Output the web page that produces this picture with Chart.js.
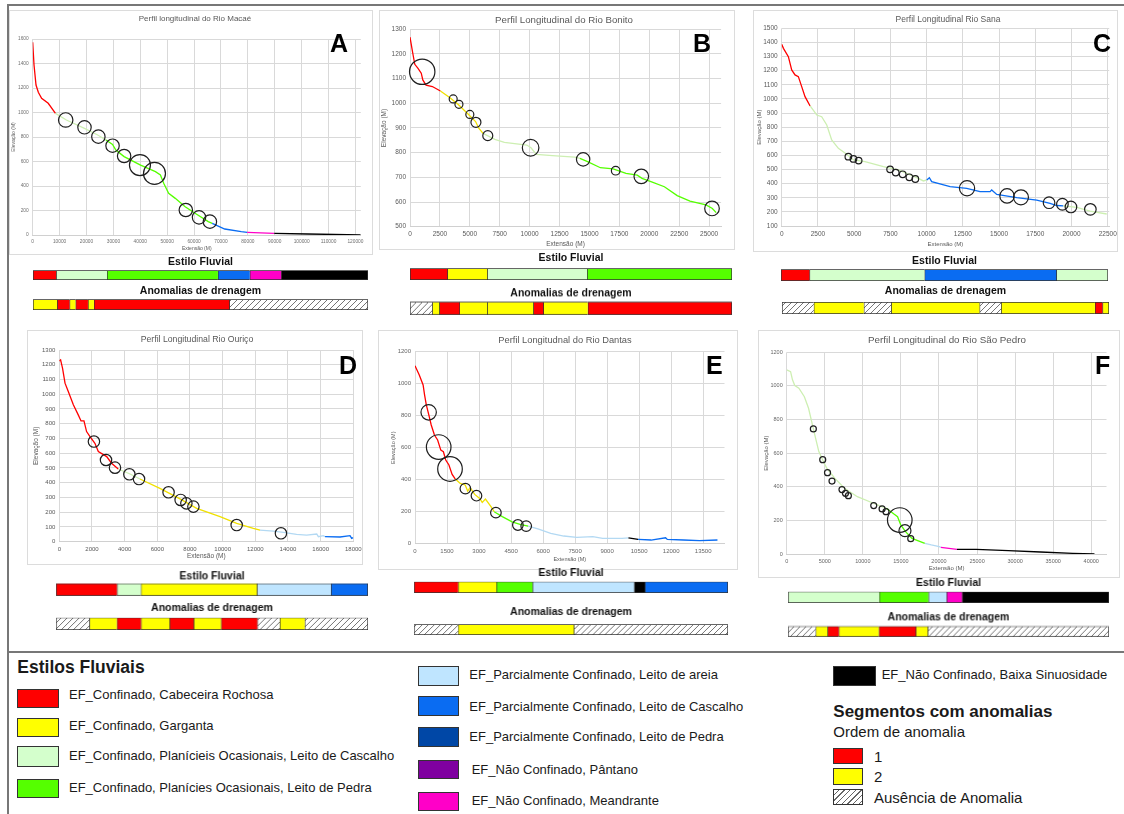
<!DOCTYPE html>
<html>
<head>
<meta charset="utf-8">
<script src="https://cdn.jsdelivr.net/npm/chart.js@4.4.1/dist/chart.umd.min.js"></script>
<style>
  body { margin: 0; background: #fff; width: 1124px; height: 814px; position: relative; overflow: hidden;
         font-family: 'Liberation Sans', Arial, sans-serif; }
  .card { position: absolute; border: 1px solid #dcdcdc; box-sizing: border-box; background: #fff; }
  canvas { position: absolute; }
  .line { position: absolute; background: #777; }
  .letter { position: absolute; font: bold 25px/25px 'Liberation Sans', Arial, sans-serif; color: #000; }
  .sw { position: absolute; border: 1px solid #333; box-sizing: border-box; }
  .lt { position: absolute; white-space: nowrap; color: #1a1a1a; }
</style>
</head>
<body>
<script>
// ---- Rio Macaé (A)
const distA = [0, 490, 1230, 2090, 3310, 5770, 8470, 12520, 19260, 24170, 27240, 29690, 30920, 33990, 40120, 45640, 47490, 48710, 50550, 53010, 56690, 60370, 65280, 66750, 71410, 77550, 79760, 89820, 102090, 121960];
const elevA = [1573, 1388, 1224, 1165, 1116, 1075, 993, 939, 871, 816, 775, 740, 694, 640, 571, 517, 490, 422, 340, 299, 231, 177, 109, 95, 49, 27, 22, 14, 8, 0];
const styleBreakA = [8470, 27240, 66750, 79760, 89820];
const styleCodeA = ['CR', 'PC', 'PP', 'PCC', 'NM', 'NB'];
const anomXA = [12270, 19260, 24420, 29690, 33990, 39880, 45280, 56930, 61840, 65890];
const anomYA = [939, 879, 803, 729, 645, 571, 503, 204, 144, 109];
const anomRA = [7.2, 6.7, 6.7, 6.7, 6.7, 10.5, 11, 6.7, 6.7, 6.7];
const xAxisA = [0, 122000, 10000];
const yAxisA = [0, 1600, 200];
const estiloLenA = [6.9, 15.2, 33.1, 9.5, 9.4, 25.9];
const estiloCodeA = ['CR', 'PC', 'PP', 'PCC', 'NM', 'NB'];
const anomLenA = [7.2, 3.7, 1.8, 3.7, 1.8, 40.4, 41.4];
const anomCodeA = [2, 1, 2, 1, 2, 1, 0];

// ---- Rio Bonito (B)
const distB = [0, 210, 400, 670, 940, 1070, 1340, 1870, 2540, 3340, 4010, 4810, 5480, 5750, 6100, 7090, 7890, 9760, 10110, 10560, 11900, 13770, 14200, 14840, 15910, 16980, 18050, 18990, 19390, 20190, 21260, 22330, 23400, 24740, 25270, 25590];
const elevB = [1268, 1209, 1158, 1142, 1122, 1095, 1074, 1068, 1050, 1023, 996, 959, 926, 899, 878, 854, 842, 831, 820, 793, 788, 782, 777, 764, 739, 734, 716, 709, 696, 682, 662, 626, 604, 588, 574, 557];
const styleBreakB = [2540, 6100, 14200];
const styleCodeB = ['CR', 'G', 'PC', 'PP'];
const anomXB = [1020, 3610, 4090, 5000, 5510, 6500, 10080, 14470, 17190, 19330, 25240];
const anomYB = [1128, 1018, 996, 955, 923, 869, 820, 773, 727, 704, 574];
const anomRB = [12.7, 4, 4, 4, 5, 5, 8.3, 6.7, 4.3, 7.3, 7.3];
const xAxisB = [0, 26000, 2500];
const yAxisB = [500, 1300, 100];
const estiloLenB = [11.6, 12.4, 31.0, 45.0];
const estiloCodeB = ['CR', 'G', 'PC', 'PP'];
const anomLenB = [6.9, 2.2, 6.2, 8.7, 14.3, 3.1, 13.8, 44.8];
const anomCodeB = [0, 2, 1, 2, 2, 1, 2, 1];

// ---- Rio Sana (C)
const distC = [0, 120, 460, 690, 920, 1150, 1380, 1610, 1960, 2420, 2760, 3110, 3450, 3910, 4490, 4950, 5750, 7020, 8050, 9320, 9780, 10010, 10190, 10350, 11620, 12770, 13690, 14380, 14490, 14840, 16220, 17600, 18520, 18980, 19440, 20360, 21280, 22430];
const elevC = [1387, 1358, 1299, 1205, 1170, 1158, 1087, 1016, 950, 886, 874, 815, 709, 650, 608, 568, 556, 520, 497, 442, 419, 426, 442, 414, 379, 367, 343, 343, 355, 324, 301, 284, 261, 245, 243, 232, 205, 185];
const styleBreakC = [1960, 10000, 19000];
const styleCodeC = ['CR', 'PC', 'PCC', 'PC'];
const anomXC = [4600, 4950, 5310, 7480, 7870, 8350, 8810, 9220, 12790, 15550, 16510, 18450, 19370, 19960, 21300];
const anomYC = [591, 575, 563, 501, 478, 466, 445, 433, 367, 313, 303, 265, 254, 235, 218];
const anomRC = [3.3, 3.3, 3.3, 3.3, 3.3, 3.3, 3.3, 3.3, 7.6, 7.2, 7.5, 5.8, 5.8, 5.8, 5.8];
const xAxisC = [0, 22600, 2500];
const yAxisC = [100, 1500, 100];
const estiloLenC = [8.7, 35.2, 40.3, 15.8];
const estiloCodeC = ['CR', 'PC', 'PCC', 'PC'];
const anomLenC = [9.7, 15.3, 8.4, 27.0, 6.6, 28.7, 2.3, 2.0];
const anomCodeC = [0, 2, 0, 2, 0, 2, 1, 2];

// ---- Rio Ouriço (D)
const distD = [0, 80, 200, 350, 550, 860, 1160, 1330, 1510, 1670, 1880, 2180, 2390, 2900, 3200, 3610, 4330, 4940, 6160, 7390, 8410, 9840, 10860, 11880, 12290, 13100, 13720, 14530, 15140, 15760, 15860, 16160, 16270, 17190, 17800, 17900, 18000];
const elevD = [1226, 1233, 1176, 1075, 1018, 928, 860, 819, 819, 747, 713, 667, 611, 577, 532, 493, 459, 425, 362, 290, 226, 170, 124, 90, 79, 72, 63, 50, 45, 52, 34, 41, 34, 32, 41, 23, 28];
const styleBreakD = [3610, 4400, 12000, 16200];
const styleCodeD = ['CR', 'PC', 'G', 'PA', 'PCC'];
const anomXD = [2120, 2860, 3410, 4290, 4880, 6690, 7430, 7780, 8210, 10860, 13570];
const anomYD = [679, 554, 502, 457, 425, 335, 283, 260, 238, 113, 57];
const anomRD = [5.7, 5.7, 5.7, 5.7, 5.7, 5.7, 5.7, 5.7, 5.7, 5.7, 5.7];
const xAxisD = [0, 18000, 2000];
const yAxisD = [0, 1300, 100];
const estiloLenD = [19.5, 7.7, 37.2, 23.7, 11.9];
const estiloCodeD = ['CR', 'PC', 'G', 'PA', 'PCC'];
const anomLenD = [10.7, 8.8, 7.7, 9.2, 7.7, 8.8, 11.6, 7.2, 8.0, 20.3];
const anomCodeD = [0, 2, 1, 2, 1, 2, 1, 0, 2, 0];

// ---- Rio Dantas (E)
const distE = [0, 200, 380, 450, 530, 650, 760, 910, 1060, 1210, 1330, 1440, 1590, 1740, 1890, 2120, 2350, 2470, 2580, 2800, 3030, 3150, 3300, 3560, 3710, 4090, 4550, 4920, 5300, 5760, 6360, 6970, 7580, 8330, 8790, 9700, 10000, 10450, 11060, 11740, 11820, 12580, 13330, 14170];
const elevE = [1112, 1054, 992, 929, 867, 804, 742, 679, 648, 585, 575, 523, 492, 433, 404, 377, 367, 329, 350, 308, 283, 258, 279, 231, 200, 169, 137, 121, 110, 92, 65, 48, 40, 44, 33, 33, 37, 27, 23, 37, 27, 23, 19, 23];
const styleBreakE = [1890, 3710, 5300, 10000, 10450];
const styleCodeE = ['CR', 'G', 'PP', 'PA', 'NB', 'PCC'];
const anomXE = [640, 1110, 1640, 2360, 2880, 3790, 4820, 5210];
const anomYE = [821, 604, 467, 344, 300, 194, 117, 110];
const anomRE = [7.7, 12.3, 12.3, 5.3, 5.3, 5.3, 5.3, 5.3];
const xAxisE = [0, 14500, 1500];
const yAxisE = [0, 1200, 200];
const estiloLenE = [14.0, 12.2, 11.5, 32.4, 3.4, 26.5];
const estiloCodeE = ['CR', 'G', 'PP', 'PA', 'NB', 'PCC'];
const anomLenE = [14.0, 36.9, 49.1];
const anomCodeE = [0, 2, 0];

// ---- Rio São Pedro (F)
const distF = [0, 510, 760, 1060, 1600, 2320, 2870, 3380, 3800, 4220, 4730, 5270, 6330, 7590, 9280, 11390, 13080, 14130, 14560, 14980, 15610, 16450, 18140, 18990, 20040, 20250, 22360, 24890, 29110, 33330, 37550, 40420];
const elevF = [1095, 1085, 1036, 1002, 986, 936, 867, 768, 688, 609, 559, 510, 450, 391, 341, 302, 272, 236, 222, 173, 133, 93, 63, 54, 44, 40, 28, 28, 20, 12, 4, 0];
const styleBreakF = [11700, 18140, 20150, 22360];
const styleCodeF = ['PC', 'PP', 'PA', 'NM', 'NB'];
const anomXF = [3500, 4730, 5360, 5950, 7260, 7720, 8100, 11430, 12530, 13040, 14850, 15530, 16290];
const anomYF = [744, 561, 484, 434, 383, 361, 347, 288, 268, 252, 202, 139, 91];
const anomRF = [3, 3, 3, 3, 3, 3, 3, 3, 3, 3, 12.3, 6, 3];
const xAxisF = [0, 42000, 5000];
const yAxisF = [0, 1200, 200];
const estiloLenF = [28.4, 15.3, 5.7, 4.8, 45.8];
const estiloCodeF = ['PC', 'PP', 'PA', 'NM', 'NB'];
const anomLenF = [8.6, 3.7, 3.5, 12.5, 11.5, 3.7, 56.5];
const anomCodeF = [0, 2, 1, 2, 1, 2, 0];

// ---- legend
const legendStyleCodes = ['CR', 'G', 'PC', 'PP', 'PA', 'PCC', 'PPD', 'NP', 'NM', 'NB'];
const legendStyleNames = [
  'EF_Confinado, Cabeceira Rochosa',
  'EF_Confinado, Garganta',
  'EF_Confinado, Planícieis Ocasionais, Leito de Cascalho',
  'EF_Confinado, Planícies Ocasionais, Leito de Pedra',
  'EF_Parcialmente Confinado, Leito de areia',
  'EF_Parcialmente Confinado, Leito de Cascalho',
  'EF_Parcialmente Confinado, Leito de Pedra',
  'EF_Não Confinado, Pântano',
  'EF_Não Confinado, Meandrante',
  'EF_Não Confinado, Baixa Sinuosidade'
];
const anomalyCodes = [1, 2, 0];
const anomalyNames = ['1', '2', 'Ausência de Anomalia'];

// colours
const styleFill = { CR: '#ff0000', G: '#ffff00', PC: '#d4ffcc', PP: '#55ff00', PA: '#bfe5ff', PCC: '#0a6cf2',
  PPD: '#0047a6', NP: '#7f00a0', NM: '#ff00c8', NB: '#000000' };
const styleLine = Object.assign({}, styleFill, { G: '#f0e000', PC: '#cdefb2', PA: '#b3d9f3' });

const FONT = "'Liberation Sans', Arial, sans-serif";
Chart.defaults.font.family = FONT;

// hatch for "Ausência de Anomalia"
function makeHatch() {
  const c = document.createElement('canvas');
  c.width = 6; c.height = 6;
  const x = c.getContext('2d');
  x.fillStyle = '#fff'; x.fillRect(0, 0, 6, 6);
  x.strokeStyle = '#666'; x.lineWidth = 0.9;
  x.beginPath();
  x.moveTo(0, 6); x.lineTo(6, 0);
  x.moveTo(-1, 1); x.lineTo(1, -1);
  x.moveTo(5, 7); x.lineTo(7, 5);
  x.stroke();
  return x.createPattern(c, 'repeat');
}
const hatch = makeHatch();
const anomFill = { 0: hatch, 1: '#ff0000', 2: '#ffff00' };

function styleAt(breaks, codes, x) {
  let i = 0;
  while (i < breaks.length && x >= breaks[i]) i++;
  return codes[i];
}

function stepTicks(axis) {
  const t = [];
  for (let v = axis[0]; v <= axis[1] + 1e-6; v += axis[2]) t.push({ value: v });
  return t;
}

function el(tag, cls, st) {
  const e = document.createElement(tag);
  if (cls) e.className = cls;
  for (const k in st) e.style[k] = typeof st[k] === 'number' ? st[k] + 'px' : st[k];
  document.body.appendChild(e);
  return e;
}

// chart title drawn at a fixed spot (Excel centres it over its own box, not the plot)
const panelTitle = {
  id: 'panelTitle',
  afterDraw(chart, args, o) {
    const ctx = chart.ctx;
    ctx.save();
    ctx.font = o.size + 'px ' + FONT;
    ctx.fillStyle = o.color;
    ctx.textAlign = 'center';
    ctx.textBaseline = 'middle';
    ctx.fillText(o.text, o.x, o.y);
    ctx.restore();
  }
};

// page frame
el('div', 'line', { left: 7, top: 4, width: 1117, height: 2 });
el('div', 'line', { left: 7, top: 4, width: 2, height: 810 });
el('div', 'line', { left: 7, top: 651, width: 1117, height: 2 });

const panels = [
  { id: 'A', title: 'Perfil longitudinal do Rio Macaé', dist: distA, elev: elevA, breaks: styleBreakA, codes: styleCodeA,
    ax: anomXA, ay: anomYA, ar: anomRA, xAxis: xAxisA, yAxis: yAxisA,
    estLen: estiloLenA, estCode: estiloCodeA, anLen: anomLenA, anCode: anomCodeA,
    card: [9, 10, 364, 245], plot: [32.7, 39, 364, 235], titleX: 195, titleY: 19, titleSize: 8,
    tickSize: 4.8, axisSize: 5, yTitleX: 14, xTitleY: 249, tickColor: '#707070', letter: [330, 31],
    est: { l: 32.7, r: 367.7, ty: 262, t: 270, b: 280 }, an: { l: 32.7, r: 367.7, ty: 291, t: 299, b: 310 } },
  { id: 'B', title: 'Perfil Longitudinal do Rio Bonito', dist: distB, elev: elevB, breaks: styleBreakB, codes: styleCodeB,
    ax: anomXB, ay: anomYB, ar: anomRB, xAxis: xAxisB, yAxis: yAxisB,
    estLen: estiloLenB, estCode: estiloCodeB, anLen: anomLenB, anCode: anomCodeB,
    card: [379, 10, 356, 240], plot: [410, 29.3, 734.3, 226.7], titleX: 564, titleY: 20, titleSize: 9.7,
    tickSize: 6.5, axisSize: 6.5, yTitleX: 384.3, xTitleY: 244, tickColor: '#595959', letter: [693, 31],
    est: { l: 410, r: 732.3, ty: 258.3, t: 268.3, b: 280 }, an: { l: 410, r: 732.3, ty: 293.7, t: 301.7, b: 315 } },
  { id: 'C', title: 'Perfil Longitudinal Rio Sana', dist: distC, elev: elevC, breaks: styleBreakC, codes: styleCodeC,
    ax: anomXC, ay: anomYC, ar: anomRC, xAxis: xAxisC, yAxis: yAxisC,
    estLen: estiloLenC, estCode: estiloCodeC, anLen: anomLenC, anCode: anomCodeC,
    card: [753, 10, 365, 242], plot: [781.7, 28.3, 1109.3, 226], titleX: 948, titleY: 20, titleSize: 8.5,
    tickSize: 6.5, axisSize: 6, yTitleX: 759.3, xTitleY: 244, tickColor: '#595959', letter: [1093, 31],
    est: { l: 780.7, r: 1108.3, ty: 261, t: 269, b: 281 }, an: { l: 781.7, r: 1109.3, ty: 291, t: 301.7, b: 314.3 } },
  { id: 'D', title: 'Perfil Longitudinal Rio Ouriço', dist: distD, elev: elevD, breaks: styleBreakD, codes: styleCodeD,
    ax: anomXD, ay: anomYD, ar: anomRD, xAxis: xAxisD, yAxis: yAxisD,
    estLen: estiloLenD, estCode: estiloCodeD, anLen: anomLenD, anCode: anomCodeD,
    card: [27, 330, 336, 235], plot: [59.3, 350, 353.3, 541.7], titleX: 197, titleY: 340, titleSize: 8.7,
    tickSize: 6, axisSize: 6.5, yTitleX: 36, xTitleY: 556, tickColor: '#595959', letter: [339, 353.4],
    est: { l: 56, r: 367.7, ty: 576.7, t: 583.3, b: 595.7 }, an: { l: 56, r: 367.7, ty: 608.3, t: 617.7, b: 630 } },
  { id: 'E', title: 'Perfil Longitudnal do Rio Dantas', dist: distE, elev: elevE, breaks: styleBreakE, codes: styleCodeE,
    ax: anomXE, ay: anomYE, ar: anomRE, xAxis: xAxisE, yAxis: yAxisE,
    estLen: estiloLenE, estCode: estiloCodeE, anLen: anomLenE, anCode: anomCodeE,
    card: [378, 330, 360, 240], plot: [415, 351.7, 733.3, 543.7], titleX: 565, titleY: 340, titleSize: 9.3,
    tickSize: 6, axisSize: 5.5, yTitleX: 393.3, xTitleY: 559, tickColor: '#666', letter: [706, 353.4],
    est: { l: 414.3, r: 728.3, ty: 573.3, t: 581.7, b: 593.3 }, an: { l: 414.3, r: 728.3, ty: 612.3, t: 624.3, b: 635 } },
  { id: 'F', title: 'Perfil Longitudinal do Rio São Pedro', dist: distF, elev: elevF, breaks: styleBreakF, codes: styleCodeF,
    ax: anomXF, ay: anomYF, ar: anomRF, xAxis: xAxisF, yAxis: yAxisF,
    estLen: estiloLenF, estCode: estiloCodeF, anLen: anomLenF, anCode: anomCodeF,
    card: [758, 330, 362, 248], plot: [786.7, 352.3, 1118.5, 554], titleX: 947, titleY: 340, titleSize: 9.8,
    tickSize: 5.5, axisSize: 6, yTitleX: 766, xTitleY: 568.3, tickColor: '#666', letter: [1095, 353.4],
    est: { l: 788.3, r: 1109, ty: 583.3, t: 591.7, b: 603.3 }, an: { l: 788.3, r: 1109, ty: 617.7, t: 626, b: 637.3 } }
];

function profileChart(p) {
  const [cx, cy, cw, ch] = p.card;
  const [pl, pt, pr, pb] = p.plot;
  el('div', 'card', { left: cx, top: cy, width: cw, height: ch });
  const cv = el('canvas', '', { left: cx, top: cy, width: cw, height: ch });
  cv.width = cw; cv.height = ch;

  const lhA = p.axisSize * 1.2;
  const padR = cx + cw - pr;
  const yW = pl - cx;
  const xH = cy + ch - pb;

  new Chart(cv, {
    type: 'scatter',
    plugins: [panelTitle],
    data: {
      datasets: [
        { type: 'bubble', data: p.ax.map((x, i) => ({ x: x, y: p.ay[i], r: p.ar[i] })),
          backgroundColor: 'rgba(0,0,0,0)', borderColor: '#1e1e1e', borderWidth: 1.2, clip: false, order: 0 },
        { type: 'scatter', data: p.dist.map((x, i) => ({ x: x, y: p.elev[i] })), showLine: true,
          pointRadius: 0, borderWidth: 1.3, borderColor: styleLine[p.codes[0]], order: 1,
          segment: { borderColor: c => styleLine[styleAt(p.breaks, p.codes, c.p0.parsed.x)] } }
      ]
    },
    options: {
      responsive: false, animation: false, events: [],
      layout: { padding: { left: 0, right: padR, top: pt - cy, bottom: 0 } },
      plugins: {
        legend: { display: false }, tooltip: { enabled: false }, title: { display: false },
        panelTitle: { text: p.title, x: p.titleX - cx, y: p.titleY - cy, size: p.titleSize, color: '#595959' }
      },
      scales: {
        x: { type: 'linear', min: p.xAxis[0], max: p.xAxis[1],
          ticks: { autoSkip: false, maxRotation: 0, minRotation: 0, padding: 4, color: p.tickColor,
            font: { size: p.tickSize }, callback: v => String(v) },
          grid: { color: '#d9d9d9', drawTicks: false }, border: { color: '#d0d0d0' },
          title: { display: true, text: 'Extensão (M)', color: '#595959', font: { size: p.axisSize, lineHeight: 1.2 },
            padding: { top: 0, bottom: (cy + ch - p.xTitleY) - lhA / 2 } },
          afterBuildTicks: s => { s.ticks = stepTicks(p.xAxis); },
          afterFit: s => { s.height = xH; s.paddingLeft = 0; s.paddingRight = 0; } },
        y: { type: 'linear', min: p.yAxis[0], max: p.yAxis[1],
          ticks: { autoSkip: false, padding: 4, color: p.tickColor,
            font: { size: p.tickSize }, callback: v => String(v) },
          grid: { color: '#d9d9d9', drawTicks: false }, border: { display: false },
          title: { display: true, text: 'Elevação (M)', color: '#595959', font: { size: p.axisSize, lineHeight: 1.2 },
            padding: { top: p.yTitleX - cx - lhA / 2, bottom: 0 } },
          afterBuildTicks: s => { s.ticks = stepTicks(p.yAxis); },
          afterFit: s => { s.width = yW; s.paddingTop = 0; s.paddingBottom = 0; } }
      }
    }
  });

  const lt = el('div', 'letter', { left: p.letter[0], top: p.letter[1] });
  lt.textContent = p.id;
}

function stripChart(title, lens, fills, g) {
  const titleSize = 10.5, lh = titleSize * 1.2;
  const left = g.l - 2, top = g.ty - lh / 2 - 1;
  const w = g.r - g.l + 4, h = g.b - top + 2;
  const cv = el('canvas', '', { left: left, top: top, width: w, height: h });
  cv.width = w; cv.height = h;
  const total = lens.reduce((a, b) => a + b, 0);
  new Chart(cv, {
    type: 'bar',
    data: {
      labels: [''],
      datasets: lens.map((v, i) => ({
        data: [v], backgroundColor: fills[i], borderColor: '#333',
        borderWidth: { top: 1, bottom: 1, left: 1, right: i === lens.length - 1 ? 1 : 0 },
        borderSkipped: false, barPercentage: 1, categoryPercentage: 1
      }))
    },
    options: {
      indexAxis: 'y', responsive: false, animation: false, events: [],
      layout: { padding: { left: 2, right: 2, top: 1, bottom: 2 } },
      plugins: {
        legend: { display: false }, tooltip: { enabled: false },
        title: { display: true, text: title, color: '#111', font: { size: titleSize, weight: 'bold', lineHeight: 1.2 },
          padding: { top: 0, bottom: g.t - (g.ty + lh / 2) } }
      },
      scales: {
        x: { display: false, stacked: true, min: 0, max: total },
        y: { display: false, stacked: true }
      }
    }
  });
}

for (const p of panels) {
  profileChart(p);
  stripChart('Estilo Fluvial', p.estLen, p.estCode.map(c => styleFill[c]), p.est);
  stripChart('Anomalias de drenagem', p.anLen, p.anCode.map(c => anomFill[c]), p.an);
}

// ---- legend block
function text(str, x, cy, size, bold) {
  const t = el('div', 'lt', { left: x, top: cy - 0.4885 * size, fontSize: size, lineHeight: size + 'px',
    fontWeight: bold ? 'bold' : 'normal' });
  t.textContent = str;
}
// swatch box x, y, w, h, text centre y, text x
const legendBoxes = [
  [16.7, 689, 42.6, 19.3, 694.3, 69], [16.7, 717.7, 42.6, 19, 725.7, 69],
  [16.7, 746, 42.6, 20.7, 755, 69], [16.7, 779.3, 42.6, 19, 787, 69],
  [418.3, 666, 41, 19.7, 674.3, 469.3], [418.3, 696, 41, 20, 706.7, 469.3],
  [418.3, 726.7, 41, 20, 736.7, 469.3], [418.3, 760, 41, 19.3, 769.3, 471.7],
  [418.3, 791.7, 41, 19, 800.7, 471.7], [833.3, 666, 42.7, 19.7, 674.3, 881.7]
];
const anomalyBoxes = [
  [833.3, 747.7, 30, 16.3, 756, 874], [833.3, 768.3, 30, 16.7, 776.7, 874], [833.3, 789.3, 30, 15.7, 797.3, 874]
];
text('Estilos Fluviais', 17.3, 668, 17.5, true);
legendStyleCodes.forEach((c, i) => {
  const b = legendBoxes[i];
  el('div', 'sw', { left: b[0], top: b[1], width: b[2], height: b[3], background: styleFill[c] });
  text(legendStyleNames[i], b[5], b[4], 13, false);
});
text('Segmentos com anomalias', 833.3, 711.7, 17, true);
text('Ordem de anomalia', 833.3, 731.7, 15, false);
anomalyCodes.forEach((c, i) => {
  const b = anomalyBoxes[i];
  const bg = c === 0 ? 'repeating-linear-gradient(135deg, #fff 0 3px, #666 3px 4px)' : anomFill[c];
  el('div', 'sw', { left: b[0], top: b[1], width: b[2], height: b[3], background: bg });
  text(anomalyNames[i], b[5], b[4], 15, false);
});
</script>
</body>
</html>
